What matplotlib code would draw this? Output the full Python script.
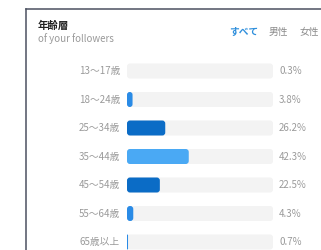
import matplotlib
matplotlib.use("Agg")
import matplotlib.pyplot as plt
from matplotlib.patches import FancyBboxPatch
from matplotlib.lines import Line2D

plt.rcParams['font.family'] = ['Noto Sans CJK JP', 'DejaVu Sans']

age_groups = ['13〜17歳', '18〜24歳', '25〜34歳', '35〜44歳', '45〜54歳', '55〜64歳', '65歳以上']
shares = [0.3, 3.8, 26.2, 42.3, 22.5, 4.3, 0.7]
bar_colors = ['#2a8be6', '#2a8be6', '#0b6cc6', '#4aa9f4', '#0b6cc6', '#2a8be6', '#2a8be6']
tabs = ['すべて', '男性', '女性']
tab_colors = ['#2f8fdc', '#8a8a8a', '#8a8a8a']
tab_x = [229, 269, 299]

W, H = 321, 250
fig = plt.figure(figsize=(W / 100, H / 100), dpi=100)
fig.patch.set_facecolor('white')

# card border (left + top)
border = '#4b5160'
fig.add_artist(Line2D([25.5 / W, 25.5 / W], [0, 1 - 8.5 / H], color=border, lw=1.1))
fig.add_artist(Line2D([25.5 / W, 1], [1 - 8.5 / H, 1 - 8.5 / H], color=border, lw=1.1))

# header
fig.text(38 / W, 1 - 25.5 / H, '年齢層', fontsize=7.5, fontweight='bold', color='#222222', va='center')
fig.text(38 / W, 1 - 38.5 / H, 'of your followers', fontsize=7, color='#9a9a9a', va='center')
for t, c, x in zip(tabs, tab_colors, tab_x):
    fig.text(x / W, 1 - 31.5 / H, t, fontsize=7, color=c, va='center',
             fontweight='bold' if t == 'すべて' else 'normal')

# bar area
x0, x1 = 127, 273
row0, step = 71, 28.5
top = row0 - step / 2
height = step * len(age_groups)
ax = fig.add_axes([x0 / W, (H - top - height) / H, (x1 - x0) / W, height / H])
ax.set_xlim(0, 100)
ax.set_ylim(len(age_groups) - 0.5, -0.5)
ax.axis('off')

bar_h = 15 / step
rx = 3 * 100 / (x1 - x0)            # 3px in x units
aspect = (1 / step) / (100 / (x1 - x0))

for i, (lab, v, c) in enumerate(zip(age_groups, shares, bar_colors)):
    ax.add_patch(FancyBboxPatch((0, i - bar_h / 2), 100, bar_h,
                                boxstyle=f'round,pad=0,rounding_size={rx}',
                                mutation_aspect=aspect, fc='#f3f3f3', ec='none'))
    if v >= 0.5:
        r = min(rx, v / 2)
        ax.add_patch(FancyBboxPatch((0, i - bar_h / 2), v, bar_h,
                                    boxstyle=f'round,pad=0,rounding_size={r}',
                                    mutation_aspect=aspect, fc=c, ec='none'))
    ax.text(-7 * 100 / (x1 - x0), i, lab, ha='right', va='center',
            fontsize=7, color='#9a9a9a')
    ax.text(100 + 6 * 100 / (x1 - x0), i, f'{v:.1f}%', ha='left', va='center',
            fontsize=7, color='#9a9a9a')

fig.savefig('out.png', dpi=100)
